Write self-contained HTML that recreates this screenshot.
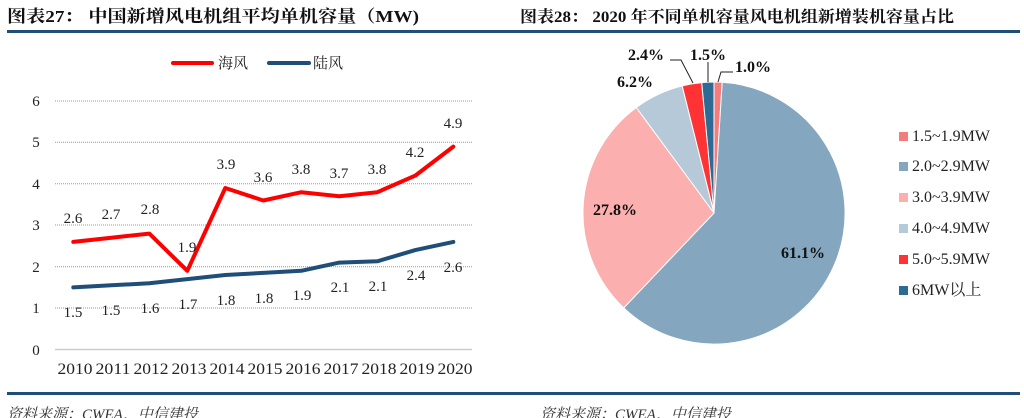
<!DOCTYPE html>
<html><head><meta charset="utf-8"><style>
html,body{margin:0;padding:0;background:#fff;width:1024px;height:418px;overflow:hidden}
svg{display:block}
</style></head><body>
<svg width="1024" height="418" viewBox="0 0 1024 418" xmlns="http://www.w3.org/2000/svg" font-family="'Liberation Serif','Noto Serif CJK SC',serif">
<text x="7" y="22" font-size="17" font-weight="bold" fill="#111" textLength="412" lengthAdjust="spacingAndGlyphs">图表27：  中国新增风电机组平均单机容量（MW)</text>
<text x="520" y="22" font-size="16" font-weight="bold" fill="#111" textLength="434" lengthAdjust="spacingAndGlyphs">图表28：  2020 年不同单机容量风电机组新增装机容量占比</text>
<rect x="7" y="30" width="1013" height="3" fill="#1F4E79"/>
<rect x="7" y="392" width="1013" height="3" fill="#1F4E79"/>
<text x="7" y="419" font-size="15" font-style="italic" fill="#333">资料来源：CWEA，中信建投</text>
<text x="540" y="419" font-size="15" font-style="italic" fill="#333">资料来源：CWEA，中信建投</text>

<line x1="173" y1="63" x2="212" y2="63" stroke="#FF0000" stroke-width="4" stroke-linecap="round"/>
<text x="218" y="68" font-size="15" fill="#222">海风</text>
<line x1="269" y1="63" x2="309" y2="63" stroke="#1F4E79" stroke-width="4" stroke-linecap="round"/>
<text x="313" y="68" font-size="15" fill="#222">陆风</text>

<g stroke="#999" stroke-width="1" stroke-dasharray="1,1">
<line x1="55" y1="101" x2="472" y2="101"/>
<line x1="55" y1="142.3" x2="472" y2="142.3"/>
<line x1="55" y1="183.7" x2="472" y2="183.7"/>
<line x1="55" y1="225" x2="472" y2="225"/>
<line x1="55" y1="266.7" x2="472" y2="266.7"/>
<line x1="55" y1="308" x2="472" y2="308"/>
</g>
<line x1="55" y1="349.5" x2="472" y2="349.5" stroke="#ccc" stroke-width="1.5"/>
<g font-size="15" fill="#222" text-anchor="middle">
<text x="36" y="106">6</text><text x="36" y="147">5</text><text x="36" y="189">4</text>
<text x="36" y="230">3</text><text x="36" y="272">2</text><text x="36" y="313">1</text><text x="36" y="355">0</text>
</g>
<g font-size="16" fill="#222" text-anchor="middle">
<text x="75" y="374" textLength="35" lengthAdjust="spacingAndGlyphs">2010</text>
<text x="113" y="374" textLength="35" lengthAdjust="spacingAndGlyphs">2011</text>
<text x="151" y="374" textLength="35" lengthAdjust="spacingAndGlyphs">2012</text>
<text x="189" y="374" textLength="35" lengthAdjust="spacingAndGlyphs">2013</text>
<text x="227" y="374" textLength="35" lengthAdjust="spacingAndGlyphs">2014</text>
<text x="265" y="374" textLength="35" lengthAdjust="spacingAndGlyphs">2015</text>
<text x="303" y="374" textLength="35" lengthAdjust="spacingAndGlyphs">2016</text>
<text x="341" y="374" textLength="35" lengthAdjust="spacingAndGlyphs">2017</text>
<text x="379" y="374" textLength="35" lengthAdjust="spacingAndGlyphs">2018</text>
<text x="417" y="374" textLength="35" lengthAdjust="spacingAndGlyphs">2019</text>
<text x="455" y="374" textLength="35" lengthAdjust="spacingAndGlyphs">2020</text>
</g>
<polyline fill="none" stroke="#FF0000" stroke-width="4" stroke-linejoin="round" stroke-linecap="round"
 points="73.3,241.9 111.3,237.7 149.3,233.6 187.3,270.8 225.3,188 263.3,200.5 301.3,192.2 339.3,196.3 377.3,192.2 415.3,175.6 453.3,146.6"/>
<polyline fill="none" stroke="#1F4E79" stroke-width="4" stroke-linejoin="round" stroke-linecap="round"
 points="73.3,287.4 111.3,285.3 149.3,283.3 187.3,279.1 225.3,275 263.3,272.9 301.3,270.8 339.3,262.6 377.3,261.3 415.3,250.1 453.3,241.9"/>
<g font-size="15" fill="#222" text-anchor="middle">
<text x="73" y="223">2.6</text><text x="111" y="219">2.7</text><text x="150" y="214">2.8</text>
<text x="187" y="252">1.9</text><text x="226" y="169">3.9</text><text x="263" y="182">3.6</text>
<text x="301" y="174">3.8</text><text x="339" y="178">3.7</text><text x="377" y="174">3.8</text>
<text x="415" y="157">4.2</text><text x="453" y="128">4.9</text>
<text x="73" y="317">1.5</text><text x="111" y="315">1.5</text><text x="150" y="313">1.6</text>
<text x="188" y="309">1.7</text><text x="226" y="305">1.8</text><text x="264" y="303">1.8</text>
<text x="302" y="300">1.9</text><text x="340" y="292">2.1</text><text x="378" y="291">2.1</text>
<text x="416" y="280">2.4</text><text x="453" y="272">2.6</text>
</g>

<g stroke="#fff" stroke-width="1">
<path d="M714,213 L714,82 A131,131 0 0 1 722.2,82.3 Z" fill="#F47C7C"/>
<path d="M714,213 L722.2,82.3 A131,131 0 1 1 623.7,307.9 Z" fill="#84A6BE"/>
<path d="M714,213 L623.7,307.9 A131,131 0 0 1 636.3,107.5 Z" fill="#FBAFAF"/>
<path d="M714,213 L636.3,107.5 A131,131 0 0 1 682.2,85.9 Z" fill="#B5C9D8"/>
<path d="M714,213 L682.2,85.9 A131,131 0 0 1 701.7,82.6 Z" fill="#FF3333"/>
<path d="M714,213 L701.7,82.6 A131,131 0 0 1 714,82 Z" fill="#2E6B94"/>
</g>
<g stroke="#222" stroke-width="1" fill="none">
<polyline points="670,60 681,60 693,83"/>
<polyline points="708,62 708,82"/>
<polyline points="733,72 721,72 718,82"/>
</g>
<g font-size="16" font-weight="bold" fill="#111" text-anchor="middle">
<text x="615" y="215">27.8%</text>
<text x="803" y="258">61.1%</text>
<text x="635" y="87">6.2%</text>
<text x="646" y="60">2.4%</text>
<text x="708" y="60">1.5%</text>
<text x="753" y="72">1.0%</text>
</g>
<g font-size="16" fill="#222">
<rect x="899" y="132" width="9" height="9" fill="#F47C7C"/><text x="912" y="141">1.5~1.9MW</text>
<rect x="899" y="162" width="9" height="9" fill="#84A6BE"/><text x="912" y="171">2.0~2.9MW</text>
<rect x="899" y="193" width="9" height="9" fill="#FBAFAF"/><text x="912" y="202">3.0~3.9MW</text>
<rect x="899" y="224" width="9" height="9" fill="#B5C9D8"/><text x="912" y="233">4.0~4.9MW</text>
<rect x="899" y="255" width="9" height="9" fill="#FF3333"/><text x="912" y="264">5.0~5.9MW</text>
<rect x="899" y="286" width="9" height="9" fill="#2E6B94"/><text x="912" y="295">6MW以上</text>
</g>
</svg>
</body></html>
